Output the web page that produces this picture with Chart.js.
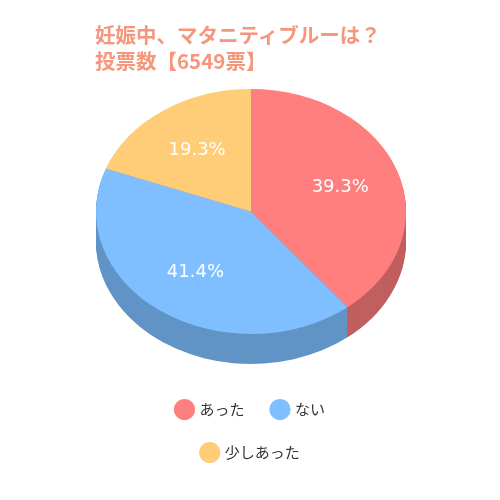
<!DOCTYPE html>
<html>
<head>
<meta charset="utf-8">
<script src="https://cdn.jsdelivr.net/npm/chart.js@4/dist/chart.umd.min.js"></script>
<style>
  body { margin: 0; background: #fff; }
  #wrap { position: relative; width: 500px; height: 500px; }
  #title { position: absolute; left: 95px; top: 21px; color: #f4977c; font: bold 20.5px "Noto Sans CJK JP", sans-serif; line-height: 26px; }
</style>
</head>
<body>
<div id="wrap">
  <canvas id="pie" width="500" height="500"></canvas>
  <div id="title">妊娠中、マタニティブルーは？<br>投票数【6549票】</div>
</div>
<script>
var labels = ['あった', 'ない', '少しあった'];
var values = [39.3, 41.4, 19.3];
var topColors = ['#ff7f7f', '#7fbfff', '#ffcc77'];
var sideColors = ['#c05f5f', '#6194c6', '#c09a5a'];

var TILT = 0.79;
var DEPTH = 30;

// fake 3D: squash the pie vertically and draw an extruded side under it
var tiltPlugin = {
    id: 'tilt',
    beforeDatasetsDraw: function (chart) {
        var ctx = chart.ctx;
        var arcs = chart.getDatasetMeta(0).data;
        var cx = arcs[0].x, cy = arcs[0].y;
        ctx.save();
        ctx.translate(cx, cy);
        ctx.scale(1, TILT);
        ctx.translate(-cx, -cy);
        for (var d = DEPTH; d >= 1; d--) {
            arcs.forEach(function (a, i) {
                ctx.beginPath();
                ctx.moveTo(cx, cy + d / TILT);
                ctx.arc(cx, cy + d / TILT, a.outerRadius, a.startAngle, a.endAngle);
                ctx.closePath();
                ctx.fillStyle = sideColors[i];
                ctx.fill();
            });
        }
    },
    afterDatasetsDraw: function (chart) {
        var ctx = chart.ctx;
        ctx.restore();
        var arcs = chart.getDatasetMeta(0).data;
        ctx.save();
        ctx.fillStyle = '#fff';
        ctx.font = '18px "DejaVu Sans", sans-serif';
        ctx.textAlign = 'center';
        ctx.textBaseline = 'middle';
        arcs.forEach(function (a, i) {
            var mid = (a.startAngle + a.endAngle) / 2;
            var r = a.outerRadius * 0.61;
            ctx.fillText(values[i].toFixed(1) + '%', a.x + Math.cos(mid) * r, a.y + Math.sin(mid) * r * TILT);
        });
        ctx.restore();
    }
};

new Chart(document.getElementById('pie').getContext('2d'), {
    type: 'pie',
    data: {
        labels: labels,
        datasets: [{
            data: values,
            backgroundColor: topColors,
            borderWidth: 0
        }]
    },
    options: {
        responsive: false,
        animation: false,
        layout: { padding: { top: 49, bottom: 30, left: 96, right: 94 } },
        plugins: {
            tooltip: { enabled: false },
            legend: {
                position: 'bottom',
                labels: {
                    usePointStyle: true,
                    pointStyle: 'circle',
                    boxWidth: 16,
                    boxHeight: 16,
                    padding: 28,
                    color: '#333',
                    font: { size: 15, family: '"Noto Sans CJK JP", sans-serif' }
                }
            }
        }
    },
    plugins: [tiltPlugin]
});
</script>
</body>
</html>
